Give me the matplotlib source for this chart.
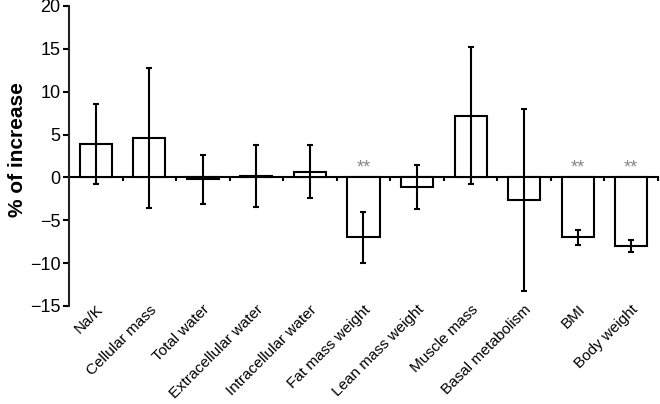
import matplotlib
matplotlib.use('Agg')
import matplotlib.pyplot as plt
import numpy as np

# values (% of increase, mean and error)
categories = ['Na/K', 'Cellular mass', 'Total water', 'Extracellular water',
              'Intracellular water', 'Fat mass weight', 'Lean mass weight',
              'Muscle mass', 'Basal metabolism', 'BMI', 'Body weight']
means = [3.9, 4.6, -0.2, 0.15, 0.65, -7.0, -1.1, 7.2, -2.6, -7.0, -8.0]
errors = [4.7, 8.2, 2.85, 3.6, 3.1, 3.0, 2.6, 8.0, 10.6, 0.9, 0.7]
significant = [False, False, False, False, False, True, False, False, False, True, True]

plt.rcParams['font.family'] = ['Liberation Sans', 'DejaVu Sans']

fig = plt.figure(figsize=(6.6, 4.04), dpi=100)
ax = fig.add_axes([0.1045, 0.2426, 0.8925, 0.7426])

x = np.arange(len(categories))
ax.bar(x, means, width=0.6, color='white', edgecolor='black', linewidth=1.5, zorder=2)
ax.errorbar(x, means, yerr=errors, fmt='none', ecolor='black', elinewidth=1.5,
            capsize=2, capthick=1.5, zorder=3)

# significance marks just above the zero line
for xi, sig in zip(x, significant):
    if sig:
        ax.text(xi, 0.1, '**', ha='center', va='bottom', color='#888888', fontsize=13)

ax.set_xlim(-0.5, len(categories) - 0.5)
ax.set_ylim(-15, 20)
ax.set_yticks(np.arange(-15, 21, 5))
ax.set_yticklabels([str(v).replace('-', '\u2212') for v in range(-15, 21, 5)])

# category labels along the bottom, no tick marks
ax.set_xticks(x)
ax.set_xticklabels(categories, rotation=45, ha='right', rotation_mode='anchor', fontsize=11)
ax.tick_params(axis='x', length=0, pad=-2.5)
ax.tick_params(axis='y', direction='out', length=4, width=1.5, labelsize=13, pad=2)

for side in ['top', 'right', 'bottom']:
    ax.spines[side].set_visible(False)
ax.spines['left'].set_linewidth(1.5)
ax.spines['left'].set_color('#222222')

# zero line with ticks between categories
ymin, ymax = ax.get_ylim()
zero_ax = ax.secondary_xaxis((0 - ymin) / (ymax - ymin))
zero_ax.set_xticks(np.arange(0.5, len(categories), 1.0))
zero_ax.set_xticklabels([])
zero_ax.tick_params(direction='out', length=3, width=1.5)
zero_ax.spines['bottom'].set_linewidth(1.5)

ax.set_ylabel('% of increase', fontsize=15, fontweight='bold')
ax.yaxis.set_label_coords(-0.072, 0.52)

fig.savefig('out.png', dpi=100)
